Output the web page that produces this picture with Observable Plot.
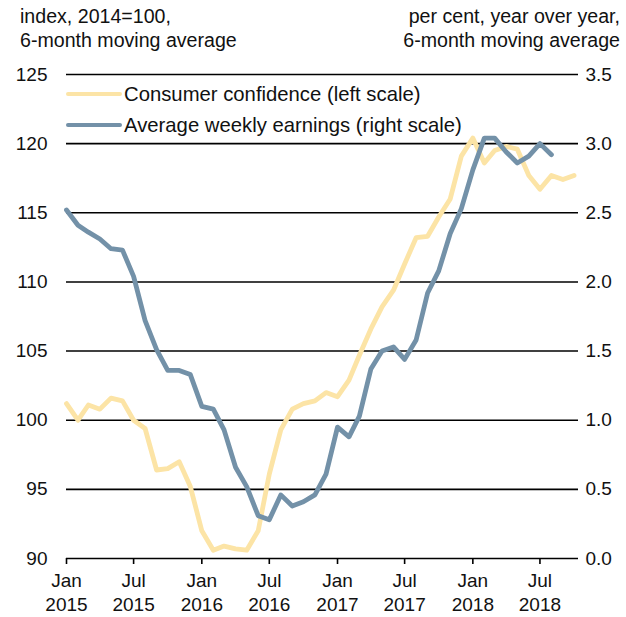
<!DOCTYPE html>
<html>
<head>
<meta charset="utf-8">
<script src="https://cdn.jsdelivr.net/npm/d3@7"></script>
<script src="https://cdn.jsdelivr.net/npm/@observablehq/plot@0.6"></script>
<style>
  body { margin: 0; background: #fff; font-family: "Liberation Sans", Arial, sans-serif; }
  #wrap { position: relative; width: 626px; }
  #head { position: relative; height: 56px; font-size: 19.6px; line-height: 24px; color: #111; }
  #hl { position: absolute; left: 20px; top: 4px; }
  #hr { position: absolute; right: 6px; top: 4px; text-align: right; }
  .leg { position: absolute; font-size: 20.3px; color: #111; display: flex; align-items: center; }
  .sw { width: 56px; height: 4.5px; border-radius: 2px; margin-right: 2px; }
</style>
</head>
<body>
<div id="wrap">
  <div id="head">
    <div id="hl">index, 2014=100,<br>6-month moving average</div>
    <div id="hr">per cent, year over year,<br>6-month moving average</div>
  </div>
  <div id="chart"></div>
</div>
<script>
// ---- data ----
const startMonth = "2015-01";
const confidence = [
  101.2, 100.0, 101.1, 100.8, 101.6, 101.4, 100.0, 99.4, 96.4, 96.5, 97.0, 95.2,
  92.0, 90.6, 90.9, 90.7, 90.6, 92.0, 96.1, 99.3, 100.8, 101.2, 101.4, 102.0,
  101.7, 102.9, 104.7, 106.6, 108.2, 109.4, 111.3, 113.2, 113.3, 114.7, 116.0, 119.1,
  120.4, 118.6, 119.5, 119.8, 119.6, 117.7, 116.7, 117.7, 117.4, 117.7
];
const earnings = [
  2.52, 2.41, 2.36, 2.31, 2.24, 2.23, 2.04, 1.72, 1.51, 1.36, 1.36, 1.33,
  1.10, 1.08, 0.93, 0.66, 0.52, 0.31, 0.28, 0.46, 0.38, 0.41, 0.46, 0.61,
  0.95, 0.88, 1.03, 1.37, 1.50, 1.53, 1.44, 1.58, 1.92, 2.08, 2.35, 2.53,
  2.81, 3.04, 3.04, 2.94, 2.86, 2.91, 3.00, 2.92
];
const leftTicks = [90, 95, 100, 105, 110, 115, 120, 125];
const rightTicks = ["0.0", "0.5", "1.0", "1.5", "2.0", "2.5", "3.0", "3.5"];
const xTickMonths = ["2015-01", "2015-07", "2016-01", "2016-07", "2017-01", "2017-07", "2018-01", "2018-07"];
const seriesNames = ["Consumer confidence (left scale)", "Average weekly earnings (right scale)"];
const colors = ["#FCE4A6", "#7391A8"];
const xDomainEnd = "2018-10-13";

// ---- build ----
const parse = d3.utcParse("%Y-%m");
const t0 = parse(startMonth);
const confData = confidence.map((v, i) => ({date: d3.utcMonth.offset(t0, i), v}));
const earnData = earnings.map((v, i) => ({date: d3.utcMonth.offset(t0, i), v}));
// right scale 0..3.5 mapped onto left 90..125
const toLeft = r => 90 + r * 10;
const xTicks = xTickMonths.map(parse);
const fmtX = d3.utcFormat("%b\n%Y");

const W = 626, H = 561;
const chart = Plot.plot({
  width: W,
  height: H,
  marginTop: 18,
  marginBottom: 59,
  marginLeft: 66,
  marginRight: 48,
  style: {fontFamily: '"Liberation Sans", Arial, sans-serif', fontSize: "19px", color: "#111", background: "#fff"},
  x: {type: "utc", domain: [t0, new Date(xDomainEnd)]},
  y: {domain: [90, 125]},
  marks: [
    Plot.ruleY(leftTicks, {stroke: "#000", strokeWidth: 1.6}),
    Plot.axisY(leftTicks, {anchor: "left", tickSize: 0, tickPadding: 19, label: null, fontSize: 19}),
    Plot.axisY(leftTicks, {anchor: "right", tickSize: 0, tickPadding: 7, label: null, fontSize: 19,
      tickFormat: (d, i) => rightTicks[i]}),
    Plot.axisX(xTicks, {anchor: "bottom", tickSize: 6, tickPadding: 6, label: null, fontSize: 19,
      stroke: "#000", strokeWidth: 1.6, tickFormat: fmtX, lineHeight: 1.25}),
    Plot.line(confData, {x: "date", y: "v", stroke: colors[0], strokeWidth: 4.8, strokeLinejoin: "round"}),
    Plot.line(earnData, {x: "date", y: d => toLeft(d.v), stroke: colors[1], strokeWidth: 4.8, strokeLinejoin: "round"})
  ]
});
document.getElementById("chart").appendChild(chart);

// legend (HTML overlay)
const wrap = document.getElementById("wrap");
const legTops = [94, 125];
seriesNames.forEach((name, i) => {
  const el = document.createElement("div");
  el.className = "leg";
  el.style.left = "66px";
  el.style.top = (legTops[i] - 12) + "px";
  el.style.height = "24px";
  el.innerHTML = `<span class="sw" style="background:${colors[i]}"></span><span>${name}</span>`;
  wrap.appendChild(el);
});
</script>
</body>
</html>
